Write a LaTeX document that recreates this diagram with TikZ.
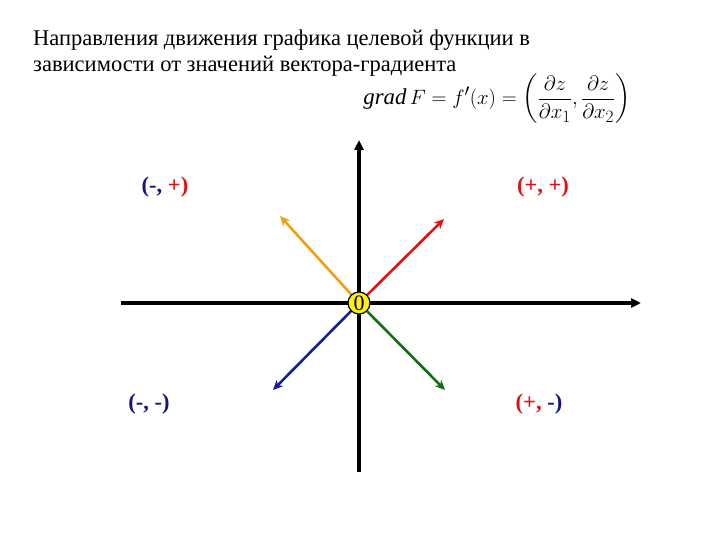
\documentclass[tikz,border=0pt]{standalone}
\usepackage{amsmath}
\usepackage{fontspec}
\setmainfont{Liberation Serif}
\usetikzlibrary{arrows.meta}
\definecolor{dblue}{RGB}{20,20,130}
\definecolor{myred}{RGB}{220,20,20}
\definecolor{myorange}{RGB}{240,160,20}
\definecolor{mygreen}{RGB}{20,110,20}
\definecolor{myblue}{RGB}{20,30,150}
\tikzset{
  axis/.style={line width=3.5pt,-{Triangle[length=10pt,width=9pt]}},
  vec/.style={line width=2.6pt,-{Stealth[length=10pt,width=9pt]}},
  quad/.style={font=\fontsize{22.5}{24}\selectfont\bfseries,inner sep=0pt}
}
\begin{document}
\begin{tikzpicture}[x=1pt,y=-1pt]
\useasboundingbox[fill=white] (0,0) rectangle (720,540);

% оси
\coordinate (xl) at (121,303);
\coordinate (xr) at (641,303);
\coordinate (yb) at (359,472);
\coordinate (yt) at (359,140);
\draw[axis] (xl) -- (xr);
\draw[axis] (yb) -- (yt);

% концы векторов
\coordinate (pp) at (444,219);
\coordinate (mp) at (280,216);
\coordinate (mm) at (273,390);
\coordinate (pm) at (445,390);

\draw[vec,myorange] (359,303) -- (mp);
\draw[vec,myred] (359,303) -- (pp);
\draw[vec,myblue] (359,303) -- (mm);
\draw[vec,mygreen] (359,303) -- (pm);

\node[circle,draw,line width=1.2pt,fill=yellow,inner sep=0pt,minimum size=22pt,
      font=\fontsize{22}{22}\selectfont] (o) at (359,303) {0};

% подписи четвертей
\node[quad] (lmp) at (165,187) {\textcolor{dblue}{(-,} \textcolor{myred}{+)}};
\node[quad] (lpp) at (543,187) {\textcolor{myred}{(+, +)}};
\node[quad] (lmm) at (149,404) {\textcolor{dblue}{(-, -)}};
\node[quad] (lpm) at (539,404) {\textcolor{myred}{(+,} \textcolor{dblue}{-)}};

% заголовок
\node[anchor=north west,align=left,inner sep=0pt,
      font=\fontsize{22.5}{26}\selectfont] (title) at (33,30)
  {Направления движения графика целевой функции в\\
   зависимости от значений вектора-градиента};

\node[inner sep=0pt,font=\fontsize{22.8}{26}\selectfont] (grad) at (497,99)
  {$\mathit{grad}\,F = f'(x) = \left(\dfrac{\partial z}{\partial x_1},
    \dfrac{\partial z}{\partial x_2}\right)$};

\end{tikzpicture}
\end{document}
